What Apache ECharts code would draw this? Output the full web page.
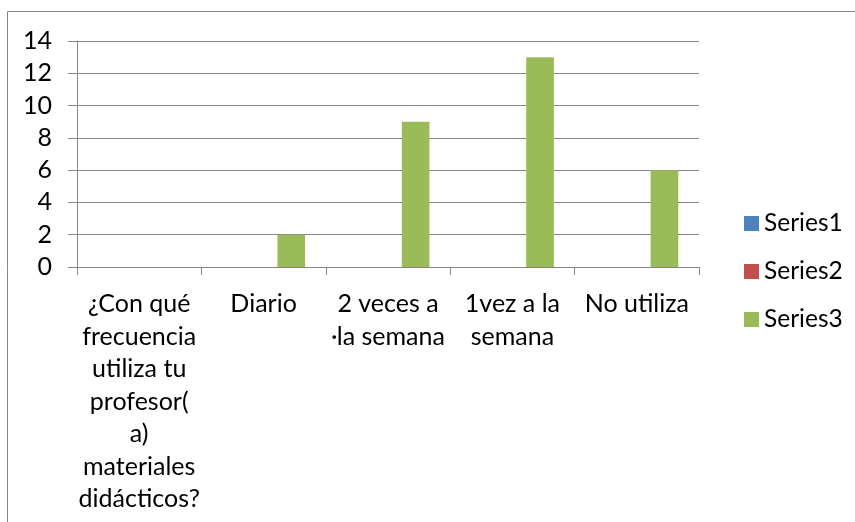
<!DOCTYPE html>
<html>
<head>
<meta charset="utf-8">
<script src="https://cdn.jsdelivr.net/npm/echarts@6/dist/echarts.min.js"></script>
<style>
  html, body { margin: 0; padding: 0; background: #fff; }
  #chart { width: 855px; height: 522px; }
</style>
</head>
<body>
<div id="chart"></div>
<script>
  // categories as wrapped in the original
  var categories = [
    '¿Con qué\nfrecuencia\nutiliza tu\nprofesor(\na)\nmateriales\ndidácticos?',
    'Diario',
    '2 veces a\n·la semana',
    '1vez a la\nsemana',
    'No utiliza',
  ];
  var series1 = [null, null, null, null, null];
  var series2 = [null, null, null, null, null];
  var series3 = [null, 2, 9, 13, 6];
  var yTicks = { min: 0, max: 14, interval: 2 };

  var font = 'Lato, "Open Sans", sans-serif';
  var gray = '#868686';

  var chart = echarts.init(document.getElementById('chart'));
  chart.setOption({
    animation: false,
    textStyle: { fontFamily: font },
    graphic: [
      {
        type: 'rect',
        shape: { x: 7.5, y: 11.5, width: 900, height: 600 },
        style: { fill: 'none', stroke: gray, lineWidth: 1 },
      },
    ],
    grid: {
      left: 77,
      right: 156,
      top: 41,
      bottom: 255,
    },
    legend: {
      orient: 'vertical',
      left: 739,
      top: 206,
      itemWidth: 15,
      itemHeight: 15,
      itemGap: 23,
      icon: 'rect',
      textStyle: { fontSize: 24.5, color: '#000', fontFamily: font },
      data: ['Series1', 'Series2', 'Series3'],
    },
    xAxis: {
      type: 'category',
      data: categories,
      axisLine: { lineStyle: { color: gray, width: 1 } },
      axisTick: { show: true, length: 8, lineStyle: { color: gray } },
      axisLabel: {
        interval: 0,
        color: '#000',
        fontSize: 25,
        lineHeight: 32.5,
        margin: 21,
        align: 'center',
      },
    },
    yAxis: {
      type: 'value',
      min: yTicks.min,
      max: yTicks.max,
      interval: yTicks.interval,
      axisLine: { show: true, lineStyle: { color: gray } },
      axisTick: { show: true, length: 9, lineStyle: { color: gray } },
      splitLine: { lineStyle: { color: gray, width: 1 } },
      axisLabel: { color: '#000', fontSize: 25, margin: 25 },
    },
    series: [
      {
        name: 'Series1',
        type: 'bar',
        data: series1,
        itemStyle: { color: '#4F81BD' },
        barGap: '0%',
        barCategoryGap: '33.3%',
      },
      {
        name: 'Series2',
        type: 'bar',
        data: series2,
        itemStyle: { color: '#C0504D' },
      },
      {
        name: 'Series3',
        type: 'bar',
        data: series3,
        itemStyle: { color: '#9BBB59' },
      },
    ],
  });
</script>
</body>
</html>
